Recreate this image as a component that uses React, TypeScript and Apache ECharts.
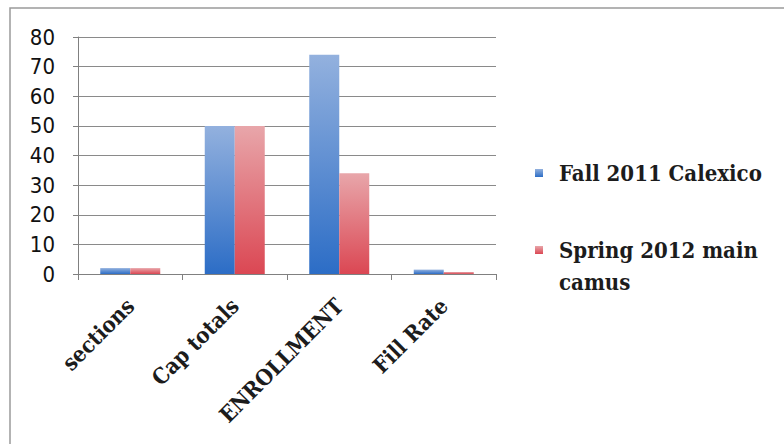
import React, { useEffect, useRef } from "react";
import * as echarts from "echarts";

const categories = ["sections", "Cap totals", "ENROLLMENT", "Fill Rate"];
const fall2011Calexico = [2, 50, 74, 1.48];
const spring2012Main = [2, 50, 34, 0.68];
const seriesNames = ["Fall 2011 Calexico", "Spring 2012 main camus"];
const yTicks = { min: 0, max: 80, interval: 10 };

const serif = "'DejaVu Serif Condensed', 'DejaVu Serif', serif";
const textColor = "#1c1c1c";

const blueFill = new echarts.graphic.LinearGradient(0, 0, 0, 1, [
  { offset: 0, color: "#93b1de" },
  { offset: 1, color: "#2c6dc6" },
]);
const redFill = new echarts.graphic.LinearGradient(0, 0, 0, 1, [
  { offset: 0, color: "#e8a6aa" },
  { offset: 1, color: "#db4753" },
]);

const legendText = {
  fontFamily: serif,
  fontSize: 22,
  fontWeight: "bold" as const,
  color: textColor,
  lineHeight: 32,
  padding: [0, 0, 0, 11],
};

export default function App() {
  const ref = useRef<HTMLDivElement>(null);

  useEffect(() => {
    if (!ref.current) return;
    const chart = echarts.init(ref.current, null, { renderer: "svg" });
    chart.setOption({
      animation: false,
      backgroundColor: "#ffffff",
      graphic: [
        {
          type: "rect",
          shape: { x: 10, y: 8, width: 800, height: 500 },
          style: { fill: "none", stroke: "#9a9a9a", lineWidth: 1.5 },
          silent: true,
        },
      ],
      grid: { left: 78, right: 288, top: 37, bottom: 170 },
      legend: [
        {
          data: [seriesNames[0]],
          orient: "vertical",
          left: 535,
          top: 157,
          padding: 0,
          icon: "rect",
          itemWidth: 8,
          itemHeight: 8,
          textStyle: legendText,
        },
        {
          data: [seriesNames[1]],
          orient: "vertical",
          left: 535,
          top: 202,
          padding: 0,
          icon: "rect",
          itemWidth: 8,
          itemHeight: 8,
          // blank first line keeps the marker level with "Spring 2012 main"
          formatter: () => " \nSpring 2012 main\ncamus",
          textStyle: legendText,
        },
      ],
      xAxis: {
        type: "category",
        data: categories,
        axisLine: { show: true, lineStyle: { color: "#808080", width: 1 } },
        axisTick: { show: true, length: 6, lineStyle: { color: "#808080" } },
        axisLabel: {
          rotate: 45,
          interval: 0,
          margin: 28,
          fontFamily: serif,
          fontSize: 22,
          fontWeight: "bold",
          color: textColor,
        },
      },
      yAxis: {
        type: "value",
        min: yTicks.min,
        max: yTicks.max,
        interval: yTicks.interval,
        axisLine: { show: true, lineStyle: { color: "#808080", width: 1 } },
        axisTick: { show: true, length: 5, lineStyle: { color: "#808080" } },
        splitLine: { show: true, lineStyle: { color: "#8a8a8a", width: 1 } },
        axisLabel: {
          margin: 23,
          fontFamily: "'DejaVu Sans Condensed', 'DejaVu Sans', sans-serif",
          fontSize: 22,
          color: "#111111",
        },
      },
      series: [
        {
          name: seriesNames[0],
          type: "bar",
          data: fall2011Calexico,
          barWidth: 30,
          barGap: "0%",
          itemStyle: { color: blueFill },
        },
        {
          name: seriesNames[1],
          type: "bar",
          data: spring2012Main,
          barWidth: 30,
          barGap: "0%",
          itemStyle: { color: redFill },
        },
      ],
    });
    return () => chart.dispose();
  }, []);

  return (
    <div
      ref={ref}
      style={{ position: "fixed", left: 0, top: 0, width: 784, height: 444 }}
    />
  );
}
